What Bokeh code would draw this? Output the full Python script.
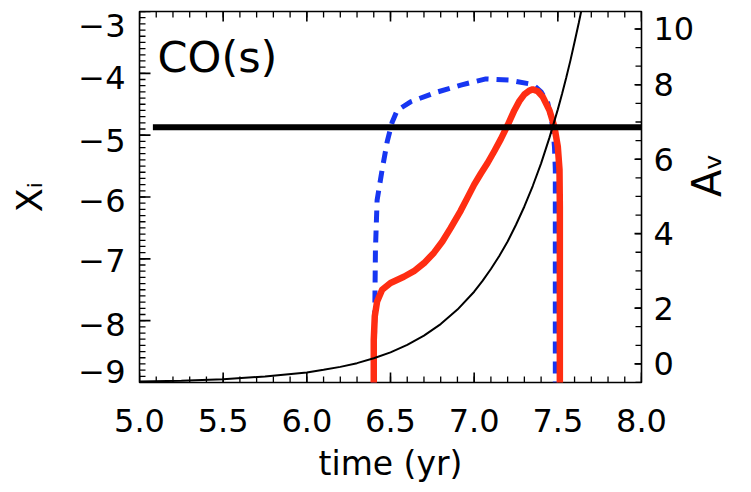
import numpy as np
from bokeh.plotting import figure
from bokeh.models import Range1d, LinearAxis, FixedTicker, Label
from bokeh.embed import file_html
from bokeh.resources import INLINE

# ---------------- data ----------------
# red solid: CO(s) abundance (left axis, log X_i)
time_red = [6.400, 6.400, 6.406, 6.42, 6.45, 6.50, 6.58, 6.64, 6.70, 6.76, 6.81, 6.86,
            6.92, 6.96, 7.00, 7.04, 7.08, 7.12, 7.16, 7.20, 7.24, 7.27, 7.30, 7.33, 7.35,
            7.38, 7.41, 7.45, 7.48, 7.50, 7.51, 7.512, 7.512, 7.512]
x_red = [-9.0, -8.31, -7.93, -7.69, -7.50, -7.39, -7.29, -7.20, -7.07, -6.90, -6.72, -6.50,
         -6.22, -6.01, -5.80, -5.62, -5.45, -5.26, -5.06, -4.84, -4.60, -4.45, -4.34, -4.28,
         -4.26, -4.29, -4.38, -4.60, -4.87, -5.19, -5.56, -6.16, -7.66, -9.0]

# blue dashed: companion abundance (left axis)
time_blue = [6.400, 6.405, 6.41, 6.42, 6.45, 6.48, 6.51, 6.54, 6.62, 6.77, 6.92, 7.07,
             7.21, 7.35, 7.40, 7.44, 7.47, 7.48, 7.485, 7.485, 7.485, 7.485]
x_blue = [-9.0, -8.15, -6.85, -6.05, -5.56, -5.11, -4.79, -4.60, -4.46, -4.31, -4.19, -4.09,
          -4.11, -4.18, -4.30, -4.48, -4.87, -5.19, -5.56, -6.16, -7.66, -9.0]

# thin black: A_v (right axis units)
time_av = [5.0, 5.25, 5.5, 5.75, 6.0, 6.1, 6.2, 6.3, 6.4, 6.5, 6.6, 6.7, 6.8, 6.9, 7.0,
           7.05, 7.1, 7.15, 7.2, 7.25, 7.3, 7.35, 7.4, 7.45, 7.5, 7.525, 7.55, 7.575, 7.6,
           7.625, 7.65]
av = [-0.47, -0.45, -0.41, -0.34, -0.23, -0.16, -0.08, 0.02, 0.15, 0.31, 0.51, 0.76, 1.07,
      1.46, 1.94, 2.23, 2.55, 2.90, 3.29, 3.74, 4.23, 4.78, 5.39, 6.08, 6.84, 7.25, 7.69,
      8.15, 8.65, 9.16, 9.70]

# thick black horizontal reference level
hline_time = [5.08, 8.0]
hline_level = -4.87

# axes ranges, ticks, labels
x_lo, x_hi = 5.0, 8.0
y_lo, y_hi = -9.0, -3.0
av_lo, av_hi = -0.5, 9.47
x_ticks = [5.0, 5.5, 6.0, 6.5, 7.0, 7.5, 8.0]
x_tick_labels = ["5.0", "5.5", "6.0", "6.5", "7.0", "7.5", "8.0"]
y_ticks = [-9, -8, -7, -6, -5, -4, -3]
y_tick_labels = ["\u22129", "\u22128", "\u22127", "\u22126", "\u22125", "\u22124", "\u22123"]
av_ticks = [0.0, 1.5, 3.5, 5.5, 7.5, 9.0]
av_tick_labels = ["0", "2", "4", "6", "8", "10"]

x_minor = [float(round(v, 2)) for v in np.arange(x_lo, x_hi + 1e-6, 0.1)]
y_minor = [float(round(v, 2)) for v in np.arange(y_lo, y_hi + 1e-6, 0.1)]
av_minor = [float(round(v, 2)) for v in np.arange(av_lo, av_hi, 0.5)]

# ---------------- style ----------------
FONT = "DejaVu Sans"
TICK_FS = "32px"
FW, FH = 502, 371
y_label_nudge = [0.18, -0.07, -0.02, -0.05, -0.08, -0.07, -0.23]

p = figure(frame_width=FW, frame_height=FH,
           x_range=Range1d(x_lo, x_hi), y_range=Range1d(y_lo, y_hi),
           output_backend="svg", toolbar_location=None,
           min_border_left=139, min_border_right=110,
           min_border_top=11, min_border_bottom=110)
p.extra_y_ranges = {"av": Range1d(av_lo, av_hi)}
p.background_fill_color = "white"
p.border_fill_color = "white"
p.outline_line_color = "black"
p.outline_line_width = 1.6
p.grid.visible = False


def style_axis(ax):
    ax.major_tick_in = 0
    ax.major_tick_out = 0
    ax.minor_tick_in = 0
    ax.minor_tick_out = 0
    ax.major_tick_line_color = None
    ax.minor_tick_line_color = None
    ax.axis_line_color = None
    ax.major_label_text_font = FONT
    ax.major_label_text_font_size = TICK_FS
    ax.major_label_text_color = "black"
    ax.axis_label_text_font = FONT
    ax.axis_label_text_font_style = "normal"
    ax.axis_label_text_color = "black"


# bottom axis
xa = p.xaxis[0]
style_axis(xa)
xa.ticker = FixedTicker(ticks=x_ticks, minor_ticks=[])
xa.major_label_overrides = dict(zip(x_ticks, x_tick_labels))
xa.major_label_standoff = 26
xa.axis_label = "time (yr)"
xa.axis_label_text_font_size = "33px"
xa.axis_label_standoff = 9

# left axis: labels (slightly nudged like the original)
ya = p.yaxis[0]
style_axis(ya)
y_label_pos = [t + n for t, n in zip(y_ticks, y_label_nudge)]
ya.ticker = FixedTicker(ticks=y_label_pos, minor_ticks=[])
ya.major_label_overrides = dict(zip(y_label_pos, y_tick_labels))
ya.major_label_standoff = 14
ya.axis_label = "X\u1d62"
ya.axis_label_text_font_size = "35px"
ya.axis_label_standoff = 25

# right axis: A_v
ra = LinearAxis(y_range_name="av", ticker=FixedTicker(ticks=av_ticks, minor_ticks=[]))
style_axis(ra)
ra.major_label_overrides = dict(zip(av_ticks, av_tick_labels))
ra.major_label_standoff = 12
ra.axis_label = "A\u1d65"
ra.axis_label_text_font_size = "40px"
ra.axis_label_standoff = 10
try:
    ra.axis_label_orientation = np.pi / 2
except Exception:
    pass
p.add_layout(ra, "right")

# ---------------- inward tick marks ----------------
xpx = (x_hi - x_lo) / FW
ypx = (y_hi - y_lo) / FH
TK = dict(line_color="black", line_cap="butt")
for yedge, sgn in ((y_lo, 1), (y_hi, -1)):
    p.segment(x_minor, [yedge] * len(x_minor), x_minor,
              [yedge + sgn * 6 * ypx] * len(x_minor), line_width=1.3, **TK)
    p.segment(x_ticks, [yedge] * len(x_ticks), x_ticks,
              [yedge + sgn * 10 * ypx] * len(x_ticks), line_width=1.6, **TK)
p.segment([x_lo] * len(y_minor), y_minor, [x_lo + 6 * xpx] * len(y_minor), y_minor,
          line_width=1.3, **TK)
p.segment([x_lo] * len(y_ticks), y_ticks, [x_lo + 11 * xpx] * len(y_ticks), y_ticks,
          line_width=1.6, **TK)
p.segment([x_hi] * len(av_minor), av_minor, [x_hi - 6 * xpx] * len(av_minor), av_minor,
          y_range_name="av", line_width=1.3, **TK)
p.segment([x_hi] * len(av_ticks), av_ticks, [x_hi - 7 * xpx] * len(av_ticks), av_ticks,
          y_range_name="av", line_width=1.6, **TK)

# ---------------- curves ----------------
p.line(time_blue, x_blue, line_color="#1736f2", line_width=5, line_dash="12 8")
p.line(time_red, x_red, line_color="#ff2d12", line_width=6.5, line_join="round", line_cap="round")
p.line(time_av, av, y_range_name="av", line_color="black", line_width=2)
p.line(hline_time, [hline_level] * len(hline_time), line_color="black", line_width=6)

# ---------------- texts ----------------
p.add_layout(Label(x=5.108, y=-3.74, text="CO(s)", text_font=FONT, text_font_size="43px",
                   text_color="black", text_baseline="alphabetic", text_align="left"))

open("out.html", "w").write(file_html(p, INLINE))
